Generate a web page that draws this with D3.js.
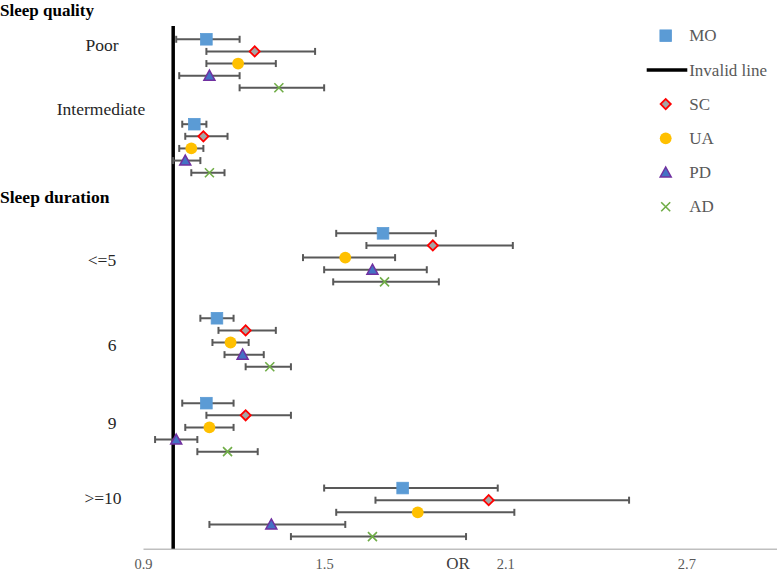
<html>
<head>
<script src="https://cdn.jsdelivr.net/npm/d3@7"></script>
<style>
  body { margin: 0; background: #fff; }
  svg { display: block; font-family: "Liberation Serif", "Times New Roman", serif; }
</style>
</head>
<body>
<div id="chart"></div>
<script>
// categories (top to bottom) and series
var headers = ["Sleep quality", "Sleep duration"];
var categories = ["Poor", "Intermediate", "<=5", "6", "9", ">=10"];
var seriesNames = ["MO", "SC", "UA", "PD", "AD"];

// each row: [OR, lower CI, upper CI], one row per category
var MO = [[1.11, 1.01, 1.22], [1.07, 1.03, 1.11], [1.695, 1.54, 1.87], [1.145, 1.09, 1.20], [1.11, 1.03, 1.20], [1.76, 1.50, 2.075]];
var SC = [[1.27, 1.11, 1.47], [1.10, 1.04, 1.18], [1.86, 1.64, 2.125], [1.24, 1.15, 1.34], [1.24, 1.11, 1.39], [2.045, 1.67, 2.51]];
var UA = [[1.215, 1.11, 1.34], [1.06, 1.02, 1.10], [1.57, 1.43, 1.735], [1.19, 1.13, 1.25], [1.12, 1.04, 1.20], [1.81, 1.54, 2.13]];
var PD = [[1.12, 1.02, 1.22], [1.04, 1.00, 1.09], [1.66, 1.50, 1.84], [1.23, 1.17, 1.30], [1.01, 0.94, 1.08], [1.325, 1.12, 1.57]];
var AD = [[1.35, 1.22, 1.50], [1.12, 1.06, 1.17], [1.70, 1.53, 1.88], [1.32, 1.24, 1.39], [1.18, 1.08, 1.28], [1.66, 1.39, 1.97]];

var xTicks = [0.9, 1.5, 2.1, 2.7];
var invalidValue = 1.0;

var width = 777, height = 573;

// layout: first row of each category block, and label placement
var groupRow = [0, 7, 16, 23, 30, 37];
var labelOffset = [1.0, -0.75, 2.7, 2.7, 2.1, 1.3];
var labelX = [102, 101, 102, 112, 112, 103];

var x = d3.scaleLinear().domain([0.9, 3.0]).range([143, 777]);
var y = d3.scaleLinear().domain([-3, 42]).range([2.9, 548.7]);

var svg = d3.select("#chart").append("svg")
    .attr("width", width)
    .attr("height", height);

// x axis
var axis = d3.axisBottom(x).tickValues(xTicks).tickSize(0).tickSizeOuter(0)
    .tickFormat(d3.format(".1f"));
var ax = svg.append("g")
    .attr("transform", "translate(0," + y(42) + ")")
    .call(axis);
ax.select(".domain").attr("stroke", "#bfbfbf").attr("stroke-width", 1.5);
ax.selectAll("text")
    .attr("fill", "#595959")
    .style("font-size", "14.5px")
    .style("font-family", "Liberation Serif")
    .attr("dy", 0)
    .attr("y", 20);

svg.append("text")
    .attr("x", 458).attr("y", 569)
    .attr("text-anchor", "middle")
    .attr("fill", "#404040")
    .style("font-size", "17px")
    .text("OR");

// invalid line
svg.append("line")
    .attr("x1", x(invalidValue)).attr("x2", x(invalidValue))
    .attr("y1", y(-1.1)).attr("y2", y(42))
    .attr("stroke", "#000").attr("stroke-width", 3.5);

// headers
svg.append("text").attr("x", 0).attr("y", 15.5)
    .style("font-size", "17px").style("font-weight", "bold").attr("fill", "#000")
    .text(headers[0]);
svg.append("text").attr("x", 0).attr("y", 203)
    .style("font-size", "17.5px").style("font-weight", "bold").attr("fill", "#000")
    .text(headers[1]);

// category labels
svg.selectAll(".cat")
    .data(categories)
  .enter().append("text")
    .attr("class", "cat")
    .attr("x", function(d, i) { return labelX[i]; })
    .attr("y", function(d, i) { return y(groupRow[i] + labelOffset[i]); })
    .attr("text-anchor", "middle")
    .attr("fill", "#262626")
    .style("font-size", "17.5px")
    .text(function(d) { return d; });

var seriesData = [MO, SC, UA, PD, AD];

function drawMarker(g, k) {
  if (k == 0) {
    g.append("rect").attr("x", -5.8).attr("y", -5.8).attr("width", 11.6).attr("height", 11.6)
      .attr("fill", "#5B9BD5").attr("stroke", "#5B9BD5").attr("stroke-width", 0.8);
  } else if (k == 1) {
    g.append("rect").attr("x", -3.6).attr("y", -3.6).attr("width", 7.2).attr("height", 7.2)
      .attr("transform", "rotate(45)")
      .attr("fill", "#A5A5A5").attr("stroke", "#FF0000").attr("stroke-width", 1.8);
  } else if (k == 2) {
    g.append("circle").attr("r", 5.9).attr("fill", "#FFC000");
  } else if (k == 3) {
    g.append("path").attr("d", "M0,-5.5L5.5,4.5L-5.5,4.5Z")
      .attr("fill", "#4472C4").attr("stroke", "#7030A0").attr("stroke-width", 1.5)
      .attr("stroke-linejoin", "miter");
  } else {
    g.append("path").attr("d", "M-4.5,-4.5L4.5,4.5M-4.5,4.5L4.5,-4.5")
      .attr("stroke", "#70AD47").attr("stroke-width", 1.6).attr("fill", "none");
  }
}

// error bars, then markers
seriesData.forEach(function(rows, k) {
  var g = svg.append("g").attr("class", "series-" + seriesNames[k]);
  rows.forEach(function(r, i) {
    var yy = y(groupRow[i] + k);
    var bar = g.append("g").attr("class", "errbar")
        .attr("stroke", "#595959").attr("stroke-width", 2);
    bar.append("line").attr("x1", x(r[1])).attr("x2", x(r[2])).attr("y1", yy).attr("y2", yy);
    bar.append("line").attr("x1", x(r[1])).attr("x2", x(r[1])).attr("y1", yy - 3.5).attr("y2", yy + 3.5);
    bar.append("line").attr("x1", x(r[2])).attr("x2", x(r[2])).attr("y1", yy - 3.5).attr("y2", yy + 3.5);
  });
});
seriesData.forEach(function(rows, k) {
  rows.forEach(function(r, i) {
    var m = svg.append("g")
        .attr("transform", "translate(" + x(r[0]) + "," + y(groupRow[i] + k) + ")");
    drawMarker(m, k);
  });
});

// legend
var legendItems = ["MO", "Invalid line", "SC", "UA", "PD", "AD"];
var legendKey = [0, -1, 1, 2, 3, 4];
var legend = svg.selectAll(".legend")
    .data(legendItems)
  .enter().append("g")
    .attr("class", "legend")
    .attr("transform", function(d, i) { return "translate(665.7," + (35.7 + i * 34.2) + ")"; });
legend.each(function(d, i) {
  var g = d3.select(this);
  if (legendKey[i] < 0) {
    g.append("line").attr("x1", -19).attr("x2", 21.6).attr("y1", 0).attr("y2", 0)
      .attr("stroke", "#000").attr("stroke-width", 3.5);
  } else {
    drawMarker(g, legendKey[i]);
  }
  g.append("text").attr("x", 23.5).attr("y", 0).attr("dy", "0.33em")
    .attr("fill", "#595959").style("font-size", "17px").text(d);
});
</script>
</body>
</html>
